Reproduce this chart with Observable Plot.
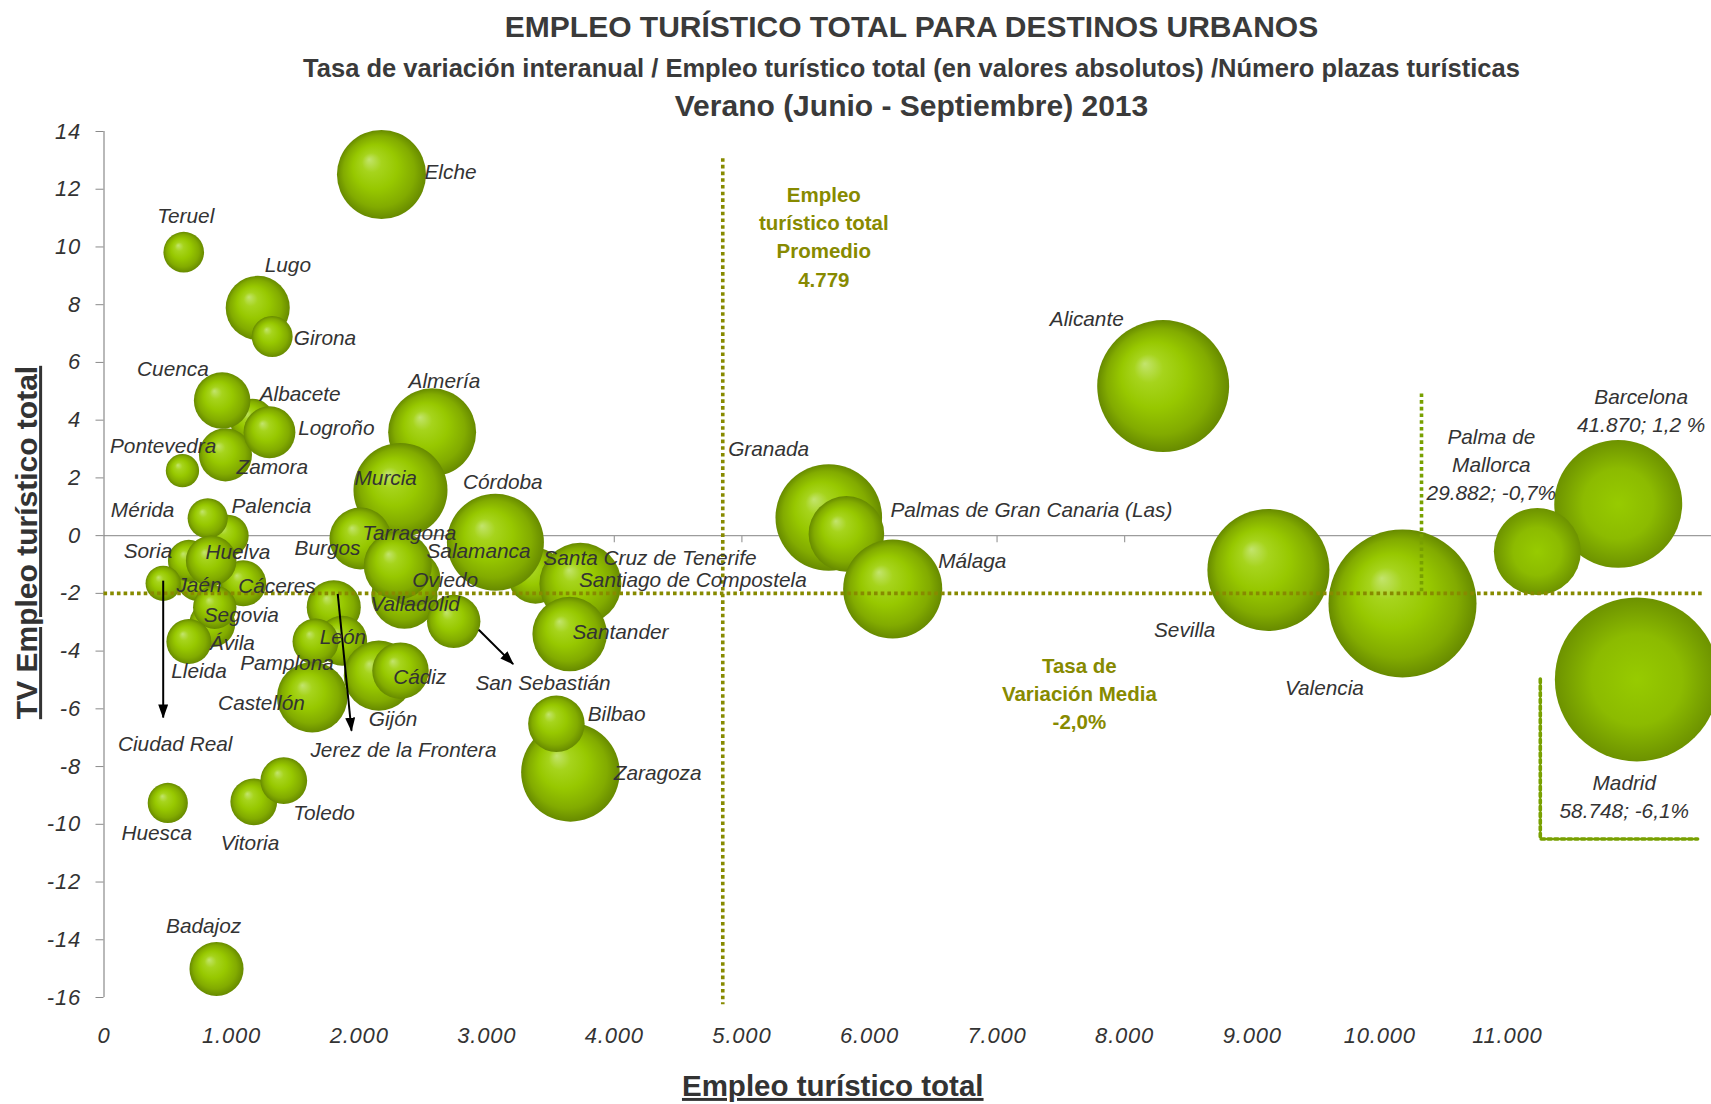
<!DOCTYPE html>
<html><head><meta charset="utf-8">
<script src="https://cdn.jsdelivr.net/npm/d3@7"></script>
<script src="https://cdn.jsdelivr.net/npm/@observablehq/plot@0.6"></script>
<style>
html,body{margin:0;padding:0;background:#fff;overflow:hidden;}
#wrap{position:relative;width:1711px;height:1104px;font-family:"Liberation Sans",Arial,sans-serif;color:#3a3a3a;background:#fff;}
.hd{position:absolute;left:112px;width:1599px;text-align:center;font-weight:bold;white-space:nowrap;z-index:2;}
#t1{top:8px;font-size:30px;line-height:38px;}
#t2{top:52px;font-size:25.5px;line-height:32px;}
#t3{top:87px;font-size:30px;line-height:38px;}
#chart{position:absolute;left:0;top:118px;z-index:1;}
#chart svg{background:transparent !important;}
#chart svg [aria-label="y-axis tick"]{stroke:#8a8a8a;}
#chart svg [aria-label="y-axis tick label"], #chart svg [aria-label="x-axis tick label"]{font-size:22px;letter-spacing:0.8px;}
</style></head>
<body><div id="wrap">
<div class="hd" id="t1">EMPLEO TURÍSTICO TOTAL PARA DESTINOS URBANOS</div>
<div class="hd" id="t2">Tasa de variación interanual / Empleo turístico total (en valores absolutos) /Número plazas turísticas</div>
<div class="hd" id="t3">Verano (Junio - Septiembre) 2013</div>
<div id="chart"></div>
</div>
<script>
// ---------- DATA ----------
// Cities drawn on the regular scale, in drawing order
const cities = ["Alicante","Valencia","Sevilla","Granada","Palmas de Gran Canaria (Las)","Málaga","Zaragoza","Bilbao",
  "Salamanca","Santa Cruz de Tenerife","Córdoba","Almería","Murcia","Elche","Santiago de Compostela","Santander",
  "Jerez de la Frontera","León","Pamplona","Castellón","Gijón","Cádiz","Burgos","Valladolid","Oviedo","Tarragona",
  "San Sebastián","Lugo","Girona","Albacete","Zamora","Cuenca","Logroño","Teruel","Pontevedra","Palencia","Mérida",
  "Cáceres","Jaén","Soria","Ciudad Real","Huelva","Ávila","Segovia","Lleida","Vitoria","Toledo","Huesca","Badajoz"];
// Empleo turístico total
const empleo = [8302,10178,9127,5681,5819,6182,3656,3546,
  3186,3382,3068,2572,2324,2175,3734,3650,
  1801,1867,1658,1632,2154,2324,2010,2355,2418,2303,
  2741,1205,1318,1161,952,926,1297,625,615,970,813,
  1091,730,665,464,840,848,868,665,1174,1409,500,882];
// TV Empleo turístico total (%)
const tvEmpleo = [5.18,-2.35,-1.19,0.63,0.06,-1.85,-8.20,-6.52,
  -0.87,-1.39,-0.23,3.58,1.58,12.51,-1.67,-3.41,
  -2.48,-3.64,-3.67,-5.60,-4.85,-4.68,-0.10,-2.08,-1.49,-1.04,
  -2.97,7.89,6.90,3.98,2.80,4.68,3.58,9.82,2.25,0.00,0.60,
  -1.65,-1.56,-0.87,-1.65,-0.87,-3.06,-2.48,-3.67,-9.22,-8.49,-9.26,-15.01];
// Número plazas turísticas (bubble size)
const plazas = [51800,65200,44300,33800,17000,29200,28900,9500,
  8000,9300,28000,23000,26300,23600,20000,16500,
  8700,7400,6300,14800,14600,9500,11400,13000,9300,13800,
  8500,12200,5000,5800,8400,9500,8000,4900,3300,5200,4800,
  6300,4800,5200,3700,7600,6300,5600,6000,6500,6500,4800,8700];

// Large cities drawn off-scale at the right edge
const bigCities = ["Barcelona","Palma de Mallorca","Madrid"];
const bigDrawnEmpleo = [11869,11235,12015];
const bigDrawnTV = [1.10,-0.55,-4.98];
const bigPlazas = [48700,22500,80000];
const bigRealEmpleo = [41870,29882,58748];
const bigRealTV = [1.2,-0.7,-6.1];
const bigPctSuffix = [" %","%","%"];

// Averages
const avgEmpleo = 4779;
const avgTV = -2.0;
const avgEmpleoDrawnX = 4850;

// Arrows (from bubble to label)
const arrowCities = ["Ciudad Real","Jerez de la Frontera","San Sebastián"];
const arrowX1 = [464,1832,2937], arrowY1 = [-1.56,-2.02,-3.26];
const arrowX2 = [464,1940,3207], arrowY2 = [-6.30,-6.76,-4.45];

// Ticks
const xTicks = [0,1000,2000,3000,4000,5000,6000,7000,8000,9000,10000,11000];
const yTicks = [-16,-14,-12,-10,-8,-6,-4,-2,0,2,4,6,8,10,12,14];

// ---------- LAYOUT (label placement: anchor, dx, dy in px) ----------
const labelLayout = {
  "Elche":["start",43,-2],"Teruel":["middle",2,-36],"Lugo":["start",7,-43],"Girona":["start",21.6,2],
  "Cuenca":["end",-13.4,-31.3],"Albacete":["start",7.6,-27],"Logroño":["start",28.7,-4.4],
  "Pontevedra":["middle",-19.3,-24.3],"Zamora":["start",11,12.4],"Almería":["middle",12.3,-50.7],
  "Murcia":["start",-46,-12],"Mérida":["end",-33.3,-7.7],"Palencia":["start",3.7,-29.3],
  "Córdoba":["start",-32.5,-60],"Tarragona":["start",-35.6,-32.7],"Burgos":["end",0,9.3],
  "Salamanca":["start",-84,-9.3],"Oviedo":["start",-0.3,2],"Valladolid":["start",-34,9],
  "San Sebastián":["start",21.7,61.6],"Santa Cruz de Tenerife":["start",7.9,-17.7],
  "Santiago de Compostela":["start",-1.4,-4],"Santander":["start",2.8,-1.6],"Bilbao":["start",31.3,-10],
  "Zaragoza":["start",43.3,0.6],"Granada":["start",-100.6,-68.2],"Palmas de Gran Canaria (Las)":["start",44,-23.6],
  "Málaga":["start",45.5,-28],"Alicante":["end",-39.4,-67],"Sevilla":["end",-53.2,60.2],"Valencia":["end",-38.6,85],
  "Soria":["end",-16.6,-9.3],"Huelva":["start",-5.7,-8.3],"Jaén":["start",-20.7,5],"Cáceres":["start",-5,3],
  "Segovia":["start",-11,8.3],"Ávila":["start",-2.4,19.4],"Lleida":["start",-17.6,30],"León":["start",-22.4,-4],
  "Pamplona":["end",18.3,21.3],"Castellón":["end",-7.4,5.6],"Cádiz":["start",-7.3,6.7],"Gijón":["start",-10,43.3],
  "Ciudad Real":["middle",12,160.6],"Jerez de la Frontera":["start",-23.3,143.3],"Huesca":["middle",-11.1,30],
  "Vitoria":["middle",-3.8,41.3],"Toledo":["start",9.4,32.7],"Badajoz":["middle",-12.9,-42.3],
  "Palma de Mallorca":["middle",-46,-86],"Barcelona":["middle",22.9,-93],"Madrid":["middle",-12.6,117.6]
};
const labelShiftY = -2.2;
const displayName = {"Palma de Mallorca":"Palma de\nMallorca"};

// ---------- BUILD ----------
const es = d3.formatLocale({decimal:",", thousands:".", grouping:[3], currency:["","€"]});
const fmtThousands = es.format(",");
const fmtPct = v => v.toFixed(1).replace(".", ",");

const rows = cities.map((c,i)=>({city:c, x:empleo[i], y:tvEmpleo[i], p:plazas[i], label:c}));
const bigRows = bigCities.map((c,i)=>({city:c, x:bigDrawnEmpleo[i], y:bigDrawnTV[i], p:bigPlazas[i],
  label:(displayName[c]||c) + "\n" + fmtThousands(bigRealEmpleo[i]) + "; " + fmtPct(bigRealTV[i]) + bigPctSuffix[i]}));
const arrows = arrowCities.map((c,i)=>({city:c, x1:arrowX1[i], y1:arrowY1[i], x2:arrowX2[i], y2:arrowY2[i]}));

const olive = "#878a00";
const insetGreen = "#78a000";
const xMax = 12600;
const dotted = {strokeWidth:3.6, strokeDasharray:"3.6,3.1"};

const labelMarks = rows.concat(bigRows).map(d => {
  const [anchor, dx, dy] = labelLayout[d.city];
  return Plot.text([d], {x:"x", y:"y", text:"label", textAnchor:anchor, dx, dy: dy + labelShiftY,
    fill:"#333", fontSize:20.8, fontStyle:"italic", lineHeight:1.35});
});

const svg = Plot.plot({
  width:1711, height:986,
  marginLeft:103.5, marginRight:0, marginTop:13, marginBottom:107,
  x:{domain:[0,xMax], ticks:xTicks, tickFormat:d=>fmtThousands(d), tickSize:0, tickPadding:30, label:null},
  y:{domain:[-16,14], ticks:yTicks, tickFormat:d=>String(d), tickSize:8, tickPadding:15, label:null},
  r:{type:"sqrt", domain:[0,80000], range:[0,82]},
  style:{fontFamily:"'Liberation Sans', Arial, sans-serif", fontSize:"22px", fontStyle:"italic", color:"#333", background:"transparent", overflow:"hidden"},
  marks:[
    Plot.ruleY([0], {x1:0, x2:xMax, stroke:"#9c9c9c", strokeWidth:1.2}),
    Plot.ruleX(xTicks.slice(1), {x:d=>d, y1:0, y2:-0.25, stroke:"#9c9c9c", strokeWidth:1.2}),
    Plot.ruleX([0], {y1:-16, y2:14, stroke:"#8a8a8a", strokeWidth:1.2}),
    Plot.dot(rows, {x:"x", y:"y", r:"p", fill:"url(#bubbleGrad)", sort:null}),
    Plot.dot(bigRows, {x:"x", y:"y", r:"p", fill:"url(#bubbleGrad2)", sort:null}),
    // average lines
    Plot.ruleY([avgTV], {x1:0, x2:12545, stroke:olive, ...dotted}),
    Plot.ruleX([avgEmpleoDrawnX], {y1:13.06, y2:-16.25, stroke:olive, ...dotted}),
    // inset frames for off-scale cities
    Plot.ruleX([10327], {y1:4.91, y2:avgTV, stroke:insetGreen, ...dotted}),
    Plot.line([[11258,-4.97],[11258,-10.51],[12491,-10.51]], {x:d=>d[0], y:d=>d[1], stroke:insetGreen, ...dotted}),
    // arrows
    Plot.link(arrows, {x1:"x1", y1:"y1", x2:"x2", y2:"y2", stroke:"#000", strokeWidth:2}),
    ...labelMarks,
    // annotations
    Plot.text([{x:5642, y:10.40, t:"Empleo\nturístico total\nPromedio\n" + fmtThousands(avgEmpleo)}],
      {x:"x", y:"y", text:"t", fill:olive, fontWeight:"bold", fontStyle:"normal", fontSize:20.5, lineHeight:1.37}),
    Plot.text([{x:7645, y:-5.42, t:"Tasa de\nVariación Media\n" + fmtPct(avgTV) + "%"}],
      {x:"x", y:"y", text:"t", fill:olive, fontWeight:"bold", fontStyle:"normal", fontSize:20.5, lineHeight:1.37}),
    // axis titles
    Plot.text(["Empleo turístico total"], {frameAnchor:"bottom", text:d=>d, textAnchor:"middle", lineAnchor:"middle",
      dx:-75, dy:89, fill:"#333", fontWeight:"bold", fontStyle:"normal", fontSize:29.5}),
    Plot.text(["TV Empleo turístico total"], {frameAnchor:"left", text:d=>d, textAnchor:"middle", lineAnchor:"middle",
      rotate:-90, dx:-76.5, dy:-22, fill:"#333", fontWeight:"bold", fontStyle:"normal", fontSize:30})
  ]
});

// gradients & arrowhead marker
const s = d3.select(svg);
const defs = s.insert("defs", ":first-child");
const g1 = defs.append("radialGradient").attr("id","bubbleGrad")
  .attr("cx","0.5").attr("cy","0.5").attr("r","0.5").attr("fx","0.36").attr("fy","0.33");
[[0,"#c3e46e"],[0.22,"#a6d41c"],[0.5,"#97c800"],[0.8,"#82ab00"],[1,"#678a00"]]
  .forEach(([o,c]) => g1.append("stop").attr("offset", o).attr("stop-color", c));
const g2 = defs.append("radialGradient").attr("id","bubbleGrad2")
  .attr("cx","0.5").attr("cy","0.5").attr("r","0.5").attr("fx","0.5").attr("fy","0.5");
[[0,"#97cb00"],[0.55,"#8cbb00"],[1,"#6d9200"]]
  .forEach(([o,c]) => g2.append("stop").attr("offset", o).attr("stop-color", c));
const mk = defs.append("marker").attr("id","arrowHead").attr("viewBox","0 0 14 10")
  .attr("refX",13).attr("refY",5).attr("markerWidth",14).attr("markerHeight",10)
  .attr("markerUnits","userSpaceOnUse").attr("orient","auto");
mk.append("path").attr("d","M0,0L14,5L0,10Z").attr("fill","#000");
s.selectAll('g[aria-label="link"] path').attr("marker-end","url(#arrowHead)");
s.selectAll("text").filter(function(){ return this.textContent === "Empleo turístico total" || this.textContent === "TV Empleo turístico total"; })
  .style("text-decoration","underline");

document.getElementById("chart").appendChild(svg);
</script>
</body></html>
